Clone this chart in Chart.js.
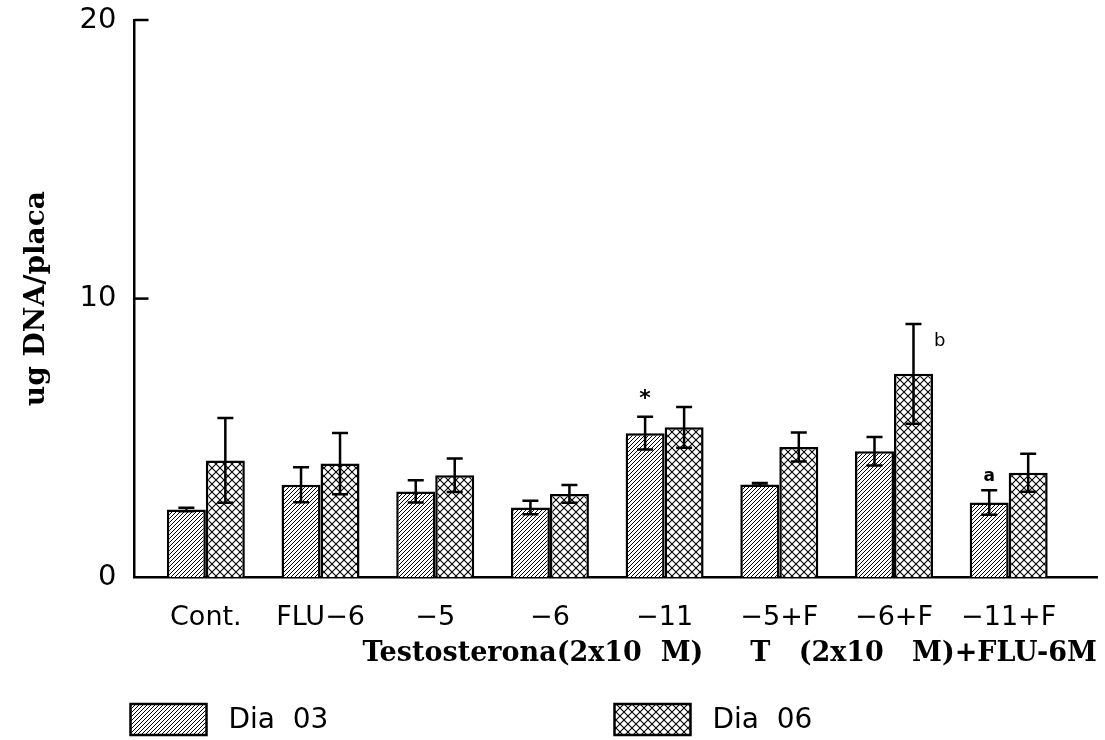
<!DOCTYPE html>
<html>
<head>
<meta charset="utf-8">
<script src="https://cdn.jsdelivr.net/npm/chart.js@4.4.1/dist/chart.umd.min.js"></script>
<style>
html,body{margin:0;padding:0;background:#fff;}
#wrap{width:1105px;height:740px;}
</style>
</head>
<body>
<div id="wrap"><canvas id="c" width="1105" height="740"></canvas></div>
<script>
// ---- data ----
const categories = ['Cont.', 'FLU\u22126', '\u22125', '\u22126', '\u221211', '\u22125+F', '\u22126+F', '\u221211+F'];
const seriesNames = ['Dia  03', 'Dia  06'];
const dia03    = [2.43, 3.32, 3.08, 2.50, 5.17, 3.33, 4.52, 2.68];
const dia03Err = [0.06, 0.63, 0.40, 0.24, 0.59, 0.05, 0.51, 0.44];
const dia06    = [4.19, 4.08, 3.66, 2.99, 5.38, 4.67, 7.30, 3.75];
const dia06Err = [1.52, 1.10, 0.60, 0.32, 0.73, 0.52, 1.79, 0.68];
const yTicks = [0, 10, 20];
const yTitle = 'ug DNA/placa';
const xTitle = 'Testosterona(2x10  M)     T   (2x10   M)+FLU-6M';
const marks = [
  {cat: 4, series: 0, text: '*', place: 'above'},
  {cat: 6, series: 1, text: 'b', place: 'right'},
  {cat: 7, series: 0, text: 'a', place: 'above'}
];
const xMin = -0.622, xMax = 7.77;

const values = [dia03, dia06];
const errors = [dia03Err, dia06Err];

function makePattern(kind) {
  const s = kind === 'diag' ? 4 : 8;
  const c = document.createElement('canvas');
  c.width = s; c.height = s;
  const g = c.getContext('2d');
  g.fillStyle = '#fff'; g.fillRect(0, 0, s, s);
  g.strokeStyle = '#000';
  g.lineWidth = kind === 'diag' ? 1.0 : 1.1;
  g.beginPath();
  if (kind === 'diag') {
    g.moveTo(-1, s + 1); g.lineTo(s + 1, -1);
    g.moveTo(-1, 1); g.lineTo(1, -1);
    g.moveTo(s - 1, s + 1); g.lineTo(s + 1, s - 1);
  } else {
    g.moveTo(0, 0); g.lineTo(s, s);
    g.moveTo(0, s); g.lineTo(s, 0);
  }
  g.stroke();
  return g.createPattern(c, 'repeat');
}
const patterns = [makePattern('diag'), makePattern('cross')];

const errorBars = {
  id: 'errorBars',
  afterDatasetsDraw(chart) {
    const c = chart.ctx, ys = chart.scales.y;
    c.save();
    c.strokeStyle = '#000'; c.lineWidth = 2.5;
    values.forEach((arr, s) => {
      const meta = chart.getDatasetMeta(s);
      meta.data.forEach((bar, i) => {
        const t = ys.getPixelForValue(arr[i] + errors[s][i]);
        const b = ys.getPixelForValue(arr[i] - errors[s][i]);
        c.beginPath();
        c.moveTo(bar.x, t); c.lineTo(bar.x, b);
        c.moveTo(bar.x - 8, t); c.lineTo(bar.x + 8, t);
        c.moveTo(bar.x - 8, b); c.lineTo(bar.x + 8, b);
        c.stroke();
      });
    });
    c.restore();
  }
};

const axisTicks = {
  id: 'axisTicks',
  afterDraw(chart) {
    const c = chart.ctx, ys = chart.scales.y, x0 = chart.chartArea.left;
    c.save();
    c.strokeStyle = '#000'; c.lineWidth = 2.5;
    yTicks.filter(v => v > 0).forEach(v => {
      const y = ys.getPixelForValue(v);
      c.beginPath(); c.moveTo(x0, y); c.lineTo(x0 + 14, y); c.stroke();
    });
    c.restore();
  }
};

const markPlugin = {
  id: 'marks',
  afterDraw(chart) {
    const c = chart.ctx, ys = chart.scales.y;
    c.save();
    c.fillStyle = '#000';
    marks.forEach(m => {
      const bar = chart.getDatasetMeta(m.series).data[m.cat];
      const top = ys.getPixelForValue(values[m.series][m.cat] + errors[m.series][m.cat]);
      if (m.place === 'above') {
        c.font = (m.text === '*' ? 'bold 22px "DejaVu Sans"' : 'bold 17px "DejaVu Sans"');
        c.textAlign = 'center'; c.textBaseline = 'middle';
        c.fillText(m.text, bar.x, top - (m.text === '*' ? 17 : 14));
      } else {
        c.font = '18px "DejaVu Sans"';
        c.textAlign = 'left'; c.textBaseline = 'middle';
        c.fillText(m.text, bar.x + bar.width / 2 + 1, top + 17);
      }
    });
    c.restore();
  }
};

const legendPlugin = {
  id: 'customLegend',
  afterDraw(chart) {
    const c = chart.ctx, a = chart.chartArea;
    const offsets = [-4, 480];
    const y = chart.height - 36, w = 76, h = 31;
    c.save();
    seriesNames.forEach((name, s) => {
      const x = a.left + offsets[s];
      c.fillStyle = patterns[s];
      c.fillRect(x, y, w, h);
      c.strokeStyle = '#000'; c.lineWidth = 2.5;
      c.strokeRect(x, y, w, h);
      c.fillStyle = '#000';
      c.font = '28px "DejaVu Sans"';
      c.textAlign = 'left'; c.textBaseline = 'middle';
      c.fillText(name, x + w + 22, y + h / 2 + 1);
    });
    c.restore();
  }
};

new Chart(document.getElementById('c').getContext('2d'), {
  type: 'bar',
  data: {
    datasets: values.map((arr, s) => ({
      label: seriesNames[s],
      data: arr.map((v, i) => ({x: i, y: v})),
      backgroundColor: patterns[s],
      borderColor: '#000',
      borderWidth: 2.5,
      categoryPercentage: 0.68,
      barPercentage: 1.0
    }))
  },
  options: {
    responsive: false,
    animation: false,
    devicePixelRatio: 1,
    layout: {padding: {left: 20, right: 8, top: 20, bottom: 70}},
    plugins: {legend: {display: false}, tooltip: {enabled: false}},
    scales: {
      x: {
        type: 'linear', min: xMin, max: xMax, offset: false,
        grid: {display: false, drawTicks: false},
        border: {display: true, color: '#000', width: 2.5},
        afterBuildTicks: sc => { sc.ticks = categories.map((_, i) => ({value: i})); },
        ticks: {
          autoSkip: false, maxRotation: 0, padding: 25, color: '#000',
          font: {family: 'DejaVu Sans', size: 27},
          callback: v => categories[v]
        },
        title: {
          display: true, text: xTitle, align: 'end', color: '#000',
          font: {family: 'DejaVu Serif', weight: 'bold', size: 27},
          padding: {top: -22, bottom: 0}
        }
      },
      y: {
        min: 0, max: 20,
        grid: {display: false, drawTicks: false},
        border: {display: true, color: '#000', width: 2.5},
        afterBuildTicks: sc => { sc.ticks = yTicks.map(v => ({value: v})); },
        ticks: {padding: 18, color: '#000', font: {family: 'DejaVu Sans', size: 29, lineHeight: 0.1}},
        title: {
          display: true, text: yTitle, color: '#000',
          font: {family: 'DejaVu Serif', weight: 'bold', size: 28},
          padding: {top: 0, bottom: 8}
        }
      }
    }
  },
  plugins: [errorBars, axisTicks, markPlugin, legendPlugin]
});
</script>
</body>
</html>
